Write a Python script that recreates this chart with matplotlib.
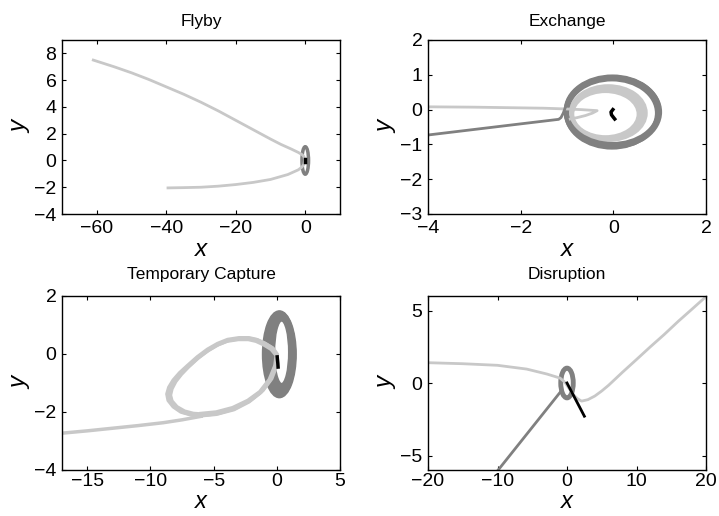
import matplotlib
matplotlib.use("Agg")
import matplotlib.pyplot as plt
from matplotlib.patches import Ellipse

plt.rcParams['font.family'] = ['Liberation Sans', 'DejaVu Sans']

LIGHT = '#c8c8c8'
DARK = '#808080'
BLACK = '#000000'

# ---------------- Panel 1: Flyby ----------------
fly_light_x = [-39.5, -35, -30, -25, -20, -15, -10, -5, -2, -1, -0.4, -0.2, -0.4, -1, -2, -4, -7, -10, -15, -20, -25, -30, -35, -40, -45, -50, -55, -61]
fly_light_y = [-2.05, -2.03, -2.0, -1.92, -1.8, -1.64, -1.42, -1.05, -0.7, -0.5, -0.3, 0.05, 0.3, 0.45, 0.6, 0.85, 1.2, 1.6, 2.3, 3.0, 3.7, 4.35, 4.95, 5.5, 6.05, 6.55, 7.0, 7.5]
# orbit ellipses: center x, center y, width, height
fly_dark_cx = [0.0]
fly_dark_cy = [0.0]
fly_dark_w = [1.9]
fly_dark_h = [2.05]
fly_black_x = [0.0, 0.0]
fly_black_y = [0.08, -0.08]

# ---------------- Panel 2: Exchange ----------------
ex_light_x = [-4.0, -3.0, -2.0, -1.5, -1.06, -0.7, -0.35, -0.45, -0.6, -0.78, -0.93]
ex_light_y = [0.08, 0.07, 0.05, 0.04, 0.02, 0.0, -0.03, -0.1, -0.17, -0.23, -0.27]
ex_light_cx = [-0.11, -0.14, -0.17]
ex_light_cy = [-0.10, -0.12, -0.13]
ex_light_w = [1.60, 1.53, 1.45]
ex_light_h = [1.52, 1.43, 1.35]
ex_dark_x = [-1.04, -1.08, -1.13, -1.18, -2.0, -3.0, -4.0]
ex_dark_y = [0.05, -0.1, -0.23, -0.28, -0.41, -0.57, -0.73]
ex_dark_cx = [-0.02, -0.01, -0.03]
ex_dark_cy = [-0.03, -0.07, -0.10]
ex_dark_w = [2.0, 2.02, 1.96]
ex_dark_h = [1.94, 1.98, 1.96]
ex_black_x = [-0.01, -0.05, -0.04, 0.0, 0.03]
ex_black_y = [0.0, -0.07, -0.15, -0.22, -0.27]

# ---------------- Panel 3: Temporary Capture ----------------
tc_tail_x = [-17, -15, -13, -11, -9, -7.5, -6.0]
tc_tail_y = [-2.73, -2.65, -2.56, -2.47, -2.37, -2.27, -2.15]
tc_loop1_x = [-6.0, -4.8, -3.4, -2.2, -1.27, -0.48, -0.05, 0.0, -0.4, -1.0, -1.6, -2.2, -3.0, -3.9, -4.7, -5.5, -6.3, -7.1, -7.7, -8.2, -8.55, -8.7, -8.6, -8.2, -7.6, -6.8, -6.0]
tc_loop1_y = [-2.13, -2.08, -1.92, -1.65, -1.33, -0.87, -0.35, 0.0, 0.22, 0.38, 0.5, 0.56, 0.56, 0.5, 0.36, 0.16, -0.1, -0.41, -0.65, -0.9, -1.15, -1.38, -1.6, -1.82, -2.0, -2.1, -2.13]
tc_loop2_x = [-6.0, -4.8, -3.5, -2.3, -1.35, -0.6, -0.15, -0.05, -0.45, -1.05, -1.65, -2.25, -3.05, -3.95, -4.75, -5.5, -6.25, -7.0, -7.55, -8.0, -8.3, -8.42, -8.3, -7.9, -7.3, -6.6, -5.9]
tc_loop2_y = [-2.05, -2.0, -1.85, -1.6, -1.3, -0.88, -0.4, -0.05, 0.16, 0.32, 0.44, 0.5, 0.5, 0.44, 0.3, 0.1, -0.15, -0.45, -0.7, -0.95, -1.2, -1.42, -1.62, -1.82, -1.97, -2.05, -2.07]
tc_loop3_x = [-5.9, -4.7, -3.4, -2.2, -1.25, -0.5, -0.1, 0.05, -0.3, -0.9, -1.5, -2.1, -2.9, -3.8, -4.6, -5.4, -6.2, -7.0, -7.6, -8.1, -8.45, -8.6, -8.45, -8.0, -7.4, -6.7, -5.9, -4.6, -3.3, -2.1, -1.1, -0.4, 0.0]
tc_loop3_y = [-2.09, -2.04, -1.88, -1.62, -1.3, -0.86, -0.38, -0.02, 0.2, 0.36, 0.48, 0.53, 0.53, 0.47, 0.33, 0.13, -0.12, -0.43, -0.68, -0.93, -1.18, -1.4, -1.62, -1.84, -2.01, -2.1, -2.12, -2.05, -1.88, -1.6, -1.26, -0.85, -0.4]
tc_dark_cx = [0.20, 0.22, 0.26, 0.30, 0.34, 0.38]
tc_dark_cy = [-0.01, 0.0, 0.02, 0.03, 0.05, 0.06]
tc_dark_w = [2.50, 2.36, 2.12, 1.85, 1.55, 1.28]
tc_dark_h = [2.92, 2.86, 2.74, 2.58, 2.42, 2.24]
tc_black_x = [0.03, 0.05, 0.08, 0.1]
tc_black_y = [-0.1, -0.2, -0.32, -0.45]

# ---------------- Panel 4: Disruption ----------------
di_light_x = [-20, -15, -10, -5.8, -2.9, -1.0, -0.3, 0.4, 1.0, 1.5, 2.1, 3.0, 4.0, 5.0, 6.0, 7.0, 8.0, 10.0, 12.0, 14.0, 16.0, 18.0, 20.0]
di_light_y = [1.4, 1.33, 1.22, 0.96, 0.62, 0.34, 0.05, -0.45, -0.85, -1.08, -1.25, -1.15, -0.9, -0.55, -0.15, 0.3, 0.75, 1.62, 2.5, 3.35, 4.25, 5.1, 5.96]
di_dark_cx = [0.0]
di_dark_cy = [0.0]
di_dark_w = [1.8]
di_dark_h = [2.05]
di_dark_x = [-0.87, -9.9]
di_dark_y = [-0.57, -6.0]
di_black_x = [0.0, 2.5]
di_black_y = [0.0, -2.29]

fig = plt.figure(figsize=(7.19, 5.16), dpi=100)
W, H = 719, 516


def make_ax(l, t, r, b):
    return fig.add_axes([l / W, 1 - b / H, (r - l) / W, (b - t) / H])


def style(ax, title, xlim, ylim, xticks, yticks, tpad, xpad, tkpad, xfs):
    ax.set_xlim(xlim)
    ax.set_ylim(ylim)
    ax.set_xticks(xticks)
    ax.set_yticks(yticks)
    ax.tick_params(direction='in', top=True, right=True, length=3, width=0.8,
                   labelsize=14, pad=4)
    ax.tick_params(axis='x', pad=tkpad)
    for s in ax.spines.values():
        s.set_linewidth(1.0)
    ax.set_title(title, fontsize=12.5, pad=tpad)
    ax.set_xlabel('x', fontsize=xfs, style='italic', labelpad=xpad)
    ax.set_ylabel('y', fontsize=17.5, style='italic', labelpad=2)


def ellipses(ax, cx, cy, w, h, color, lw):
    for a, b, c, d in zip(cx, cy, w, h):
        ax.add_patch(Ellipse((a, b), c, d, fill=False, edgecolor=color, linewidth=lw))


ax1 = make_ax(62, 40, 340, 214)
ax1.plot(fly_light_x, fly_light_y, color=LIGHT, lw=2)
ellipses(ax1, fly_dark_cx, fly_dark_cy, fly_dark_w, fly_dark_h, DARK, 2.5)
ax1.plot(fly_black_x, fly_black_y, color=BLACK, lw=2.5)
style(ax1, 'Flyby', (-70, 10), (-4, 9), [-60, -40, -20, 0], [-4, -2, 0, 2, 4, 6, 8], 10, 1, 4, 17.5)

ax2 = make_ax(428, 40, 706, 214)
ax2.plot(ex_light_x, ex_light_y, color=LIGHT, lw=2)
ellipses(ax2, ex_light_cx, ex_light_cy, ex_light_w, ex_light_h, LIGHT, 3.5)
ellipses(ax2, ex_dark_cx, ex_dark_cy, ex_dark_w, ex_dark_h, DARK, 3.5)
ax2.plot(ex_dark_x, ex_dark_y, color=DARK, lw=2)
ax2.plot(ex_black_x, ex_black_y, color=BLACK, lw=2.5)
style(ax2, 'Exchange', (-4, 2), (-3, 2), [-4, -2, 0, 2], [-3, -2, -1, 0, 1, 2], 10, 1, 4, 17.5)

ax3 = make_ax(62, 296, 340, 470)
ax3.plot(tc_tail_x, tc_tail_y, color=LIGHT, lw=2.5)
ax3.plot(tc_loop1_x, tc_loop1_y, color=LIGHT, lw=2.5)
ax3.plot(tc_loop2_x, tc_loop2_y, color=LIGHT, lw=2.5)
ax3.plot(tc_loop3_x, tc_loop3_y, color=LIGHT, lw=2.5)
ellipses(ax3, tc_dark_cx, tc_dark_cy, tc_dark_w, tc_dark_h, DARK, 2.5)
ax3.plot(tc_black_x, tc_black_y, color=BLACK, lw=2.5)
style(ax3, 'Temporary Capture', (-17, 5), (-4, 2), [-15, -10, -5, 0, 5], [-4, -2, 0, 2], 12, 0, 2.5, 17)

ax4 = make_ax(428, 296, 706, 470)
ax4.plot(di_light_x, di_light_y, color=LIGHT, lw=2)
ellipses(ax4, di_dark_cx, di_dark_cy, di_dark_w, di_dark_h, DARK, 3.5)
ax4.plot(di_dark_x, di_dark_y, color=DARK, lw=2)
ax4.plot(di_black_x, di_black_y, color=BLACK, lw=2)
style(ax4, 'Disruption', (-20, 20), (-6, 6), [-20, -10, 0, 10, 20], [-5, 0, 5], 12, 0, 2.5, 17)

fig.savefig('out.png', dpi=100)
